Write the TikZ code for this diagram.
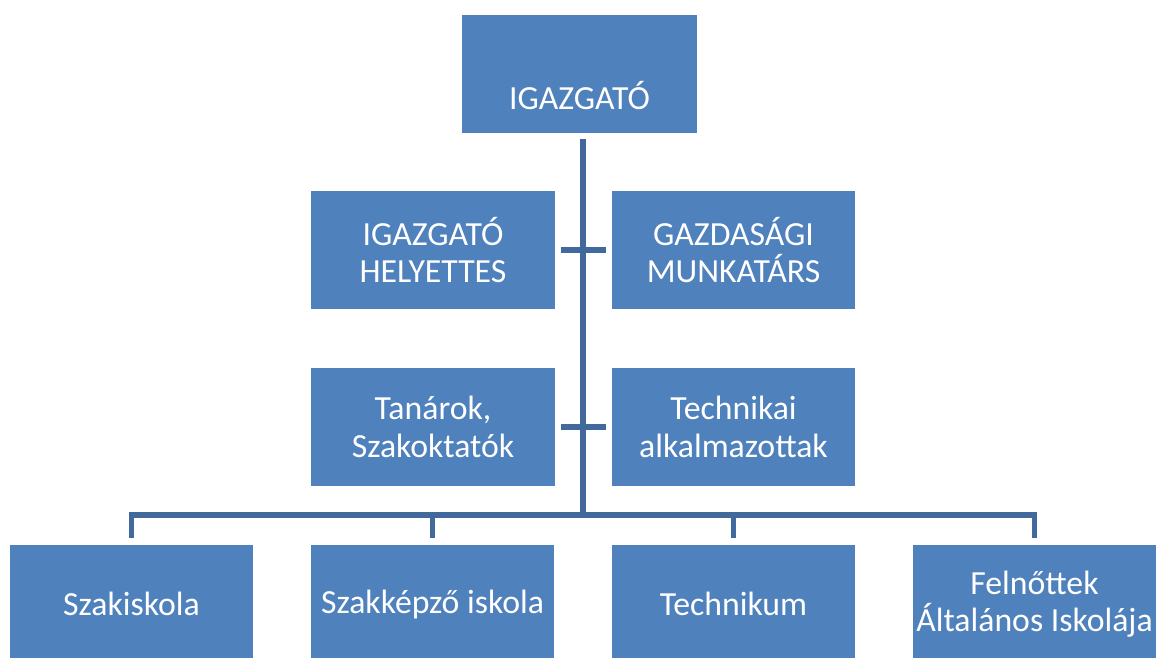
\documentclass[tikz,border=0pt]{standalone}
\usepackage{fontspec}
\setmainfont{Carlito}
\definecolor{boxblue}{RGB}{79,129,189}
\definecolor{lineblue}{RGB}{65,105,155}

\begin{document}
\begin{tikzpicture}
			[x=0.025cm, y=-0.025cm,
			block/.style ={rectangle, fill=boxblue, text=white, inner sep=0pt, align=center,
				minimum width=6.075cm, minimum height=2.95cm, font=\fontsize{24}{26.5}\selectfont},
			conn/.style ={draw=lineblue, line width=3.6pt}]
			\useasboundingbox (0,0) rectangle (1156,657);
			\node[block, minimum width=5.875cm] (igazgato) at (579.5,74) {\raisebox{-0.875cm}[0pt][0pt]{IGAZGATÓ}};
			\node[block] (helyettes) at (433,250) {IGAZGATÓ\\HELYETTES};
			\node[block] (gazdasagi) at (733.5,250) {GAZDASÁGI\\MUNKATÁRS};
			\node[block] (tanarok) at (433,427) {Tanárok,\\Szakoktatók};
			\node[block] (technikai) at (733.5,427) {Technikai\\alkalmazottak};
			\node[block] (szakiskola) at (131.5,604) {Szakiskola};
			\node[block] (szakkepzo) at (432.5,604) {Szakképző iskola};
			\node[block] (technikum) at (733.5,604) {Technikum};
			\node[block] (felnottek) at (1034.5,604) {Felnőttek\\Általános Iskolája};
			\coordinate (bus) at (583,515);
			\draw[conn, shorten <=0.15cm] (igazgato.south -| bus) -- (bus);
			\draw[conn, shorten <=0.15cm, shorten >=0.15cm] (helyettes) -- (gazdasagi);
			\draw[conn, shorten <=0.15cm, shorten >=0.15cm] (tanarok) -- (technikai);
			\foreach \n in {szakiskola, szakkepzo, technikum, felnottek}
				\draw[conn, shorten >=0.175cm] (bus) -| (\n.north);
		\end{tikzpicture}
\end{document}
